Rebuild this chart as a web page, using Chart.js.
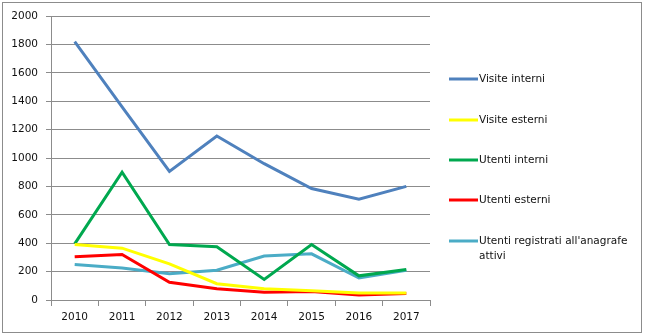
<!DOCTYPE html>
<html>
<head>
<meta charset="utf-8">
<script src="https://cdn.jsdelivr.net/npm/chart.js@4/dist/chart.umd.min.js"></script>
<style>
  html, body { margin: 0; padding: 0; background: #fff; }
  #wrap { width: 648px; height: 336px; position: relative; }
</style>
</head>
<body>
<div id="wrap"><canvas id="chart"></canvas></div>
<script>
// ── Data ──
const years = ['2010', '2011', '2012', '2013', '2014', '2015', '2016', '2017'];
const visiteInterni   = [1820, 1360, 905, 1155, 960, 785, 710, 800];
const visiteEsterni   = [390, 365, 255, 115, 80, 65, 50, 50];
const utentiInterni   = [395, 900, 390, 375, 145, 390, 170, 215];
const utentiEsterni   = [305, 320, 125, 80, 55, 60, 35, 45];
const utentiRegistrati = [250, 225, 185, 210, 310, 325, 155, 210];
const yTicks = [0, 200, 400, 600, 800, 1000, 1200, 1400, 1600, 1800, 2000];

const FONT = 'DejaVu Sans';
const GRID = '#8c8c8c';

function series(label, data, color) {
    return {
        label, data,
        borderColor: color,
        backgroundColor: color,
        borderWidth: 3,
        pointRadius: 0,
        tension: 0,
        fill: false
    };
}

// Outer frame + white background
const framePlugin = {
    id: 'frame',
    beforeDraw(chart) {
        const c = chart.ctx;
        c.save();
        c.fillStyle = '#fff';
        c.fillRect(0, 0, chart.width, chart.height);
        c.strokeStyle = '#8c8c8c';
        c.lineWidth = 1;
        c.strokeRect(2.5, 2.5, 639, 330);
        c.restore();
    }
};

// Legend on the right, drawn from the dataset labels and colours
const sideLegend = {
    id: 'sideLegend',
    afterDraw(chart) {
        const c = chart.ctx;
        const rows = [79, 120, 160, 200, 241];
        c.save();
        c.font = `10.5px "${FONT}"`;
        c.textBaseline = 'middle';
        c.fillStyle = '#111';
        chart.data.datasets.forEach((ds, i) => {
            const y = rows[i];
            c.strokeStyle = ds.borderColor;
            c.lineWidth = 3;
            c.beginPath();
            c.moveTo(449, y);
            c.lineTo(478, y);
            c.stroke();
            // simple word wrap
            const words = ds.label.split(' ');
            let line = '', lines = [];
            words.forEach(w => {
                const test = line ? line + ' ' + w : w;
                if (c.measureText(test).width > 162 && line) { lines.push(line); line = w; }
                else line = test;
            });
            lines.push(line);
            lines.forEach((t, k) => c.fillText(t, 479, y + k * 15));
        });
        c.restore();
    }
};

new Chart(document.getElementById('chart'), {
    type: 'line',
    data: {
        labels: years,
        datasets: [
            series('Visite interni', visiteInterni, '#4f81bd'),
            series('Visite esterni', visiteEsterni, '#ffff00'),
            series('Utenti interni', utentiInterni, '#00a84f'),
            series('Utenti esterni', utentiEsterni, '#ff0000'),
            series("Utenti registrati all'anagrafe attivi", utentiRegistrati, '#4bacc6')
        ]
    },
    options: {
        responsive: true,
        maintainAspectRatio: false,
        animation: false,
        layout: { padding: { left: 0, top: 16, right: 218, bottom: 0 } },
        plugins: { legend: { display: false }, tooltip: { enabled: false } },
        scales: {
            x: {
                offset: true,
                grid: { display: true, drawOnChartArea: false, drawTicks: true, tickLength: 6, color: GRID, offset: true },
                border: { color: GRID },
                ticks: { color: '#111', font: { family: FONT, size: 10.5 }, padding: 5, maxRotation: 0 },
                afterFit(s) { s.height = 36; }
            },
            y: {
                min: 0, max: 2000,
                afterBuildTicks(s) { s.ticks = yTicks.map(v => ({ value: v })); },
                grid: { color: GRID, tickLength: 5 },
                border: { color: GRID },
                ticks: { color: '#111', font: { family: FONT, size: 10.5 }, padding: 8, callback: v => String(v) },
                afterFit(s) { s.width = 51; }
            }
        }
    },
    plugins: [framePlugin, sideLegend]
});
</script>
</body>
</html>
